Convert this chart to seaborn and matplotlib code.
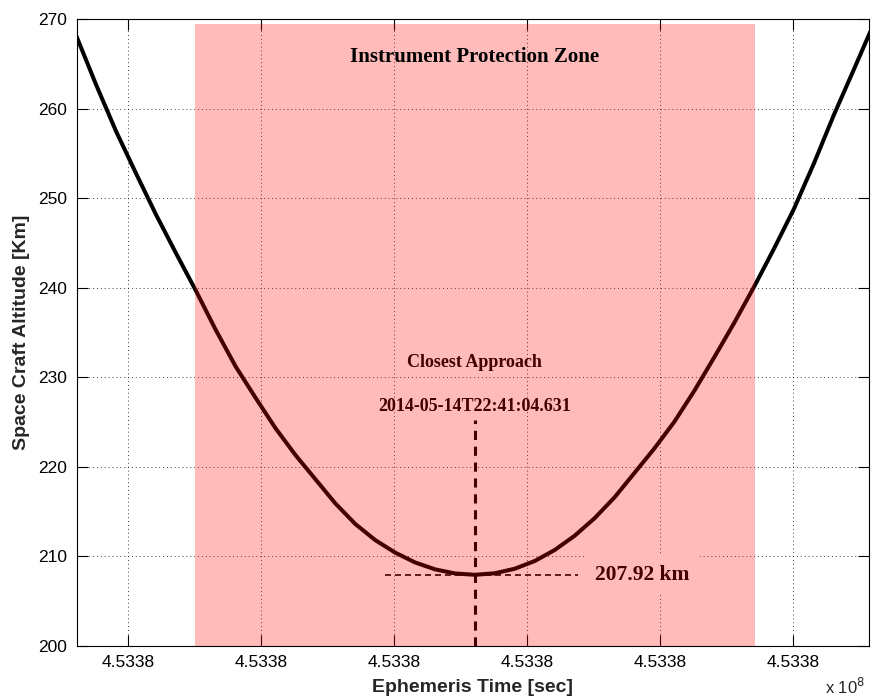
import matplotlib
matplotlib.use("Agg")
import matplotlib.pyplot as plt
import seaborn as sns
import pandas as pd
from matplotlib.ticker import FixedLocator, FuncFormatter

# ---- data (altitude along the flyby) ----
et_sec = [453379060.7, 453379075.7, 453379090.7, 453379105.7, 453379120.7,
          453379135.7, 453379150.7, 453379165.7, 453379180.7, 453379195.7,
          453379210.7, 453379225.7, 453379240.7, 453379255.7, 453379270.7,
          453379285.7, 453379300.7, 453379315.7, 453379330.7, 453379345.7,
          453379360.7,
          453379375.7, 453379390.7, 453379405.7, 453379420.7, 453379435.7,
          453379450.7, 453379465.7, 453379480.7, 453379495.7, 453379510.7,
          453379525.7, 453379540.7, 453379555.7, 453379570.7, 453379585.7,
          453379600.7, 453379615.7, 453379630.7, 453379645.7, 453379658.2]
altitude_km = [268.2, 262.7, 257.5, 252.8, 248.2,
               243.9, 239.7, 235.3, 231.2, 227.7,
               224.3, 221.3, 218.6, 215.9, 213.6,
               211.8, 210.4, 209.3, 208.53, 208.07,
               207.92,
               208.09, 208.6, 209.46, 210.69, 212.28,
               214.24, 216.57, 219.3, 222.04, 225.02,
               228.47, 232.22, 236.06, 240.11, 244.37,
               248.82, 253.89, 259.31, 264.37, 268.64]

closest_et = 453379360.7
closest_alt = 207.92
closest_label = "2014-05-14T22:41:04.631"
zone_start = 453379150.1
zone_end = 453379571.2
zone_top = 269.46
x_ticks = [453379100, 453379200, 453379300, 453379400, 453379500, 453379600]
y_ticks = [200, 210, 220, 230, 240, 250, 260, 270]
x_limits = (453379061.4, 453379657.1)
y_limits = (200, 270)
hline_span = (453379293.0, 453379438.0)
vline_top = 225.2

df = pd.DataFrame({"et": et_sec, "alt": altitude_km})

sns.set_style("white")
plt.rcParams["font.family"] = ["Liberation Sans", "DejaVu Sans"]

fig = plt.figure(figsize=(8.73, 7.0), dpi=100)
ax = fig.add_axes([0.0882, 0.0776, 0.9954 - 0.0882, 0.9726 - 0.0776])

sns.lineplot(data=df, x="et", y="alt", ax=ax, color="black", linewidth=2.9,
             sort=False, zorder=3, solid_joinstyle="round")

# closest approach markers
ax.plot([closest_et, closest_et], [y_limits[0], vline_top], color="black",
        linewidth=2.2, linestyle=(0, (3.0, 2.2)), zorder=4)
ax.plot(list(hline_span), [closest_alt, closest_alt], color="black",
        linewidth=1.2, linestyle=(0, (3.6, 2.4)), zorder=4)

serif = ["Liberation Serif", "DejaVu Serif"]
ax.text(closest_et, 231.6, "Closest Approach", ha="center", va="center",
        fontsize=13, fontweight="bold", family=serif, color="black", zorder=5)
ax.text(closest_et, 226.7, closest_label, ha="center", va="center",
        fontsize=13, fontweight="bold", family=serif, color="black", zorder=5)
ax.text(453379451.0, closest_alt, f"{closest_alt:.2f} km", ha="left", va="center",
        fontsize=15.5, fontweight="bold", family=serif, color="black", zorder=5,
        bbox=dict(boxstyle="square,pad=0.45", facecolor="white", edgecolor="none"))

# protection zone overlay (semi transparent, on top)
ax.fill_between([zone_start, zone_end], [y_limits[0]] * 2, [zone_top] * 2,
                color="red", alpha=0.27, linewidth=0, zorder=6)
ax.text((zone_start + zone_end) / 2, 265.8, "Instrument Protection Zone",
        ha="center", va="center", fontsize=15, fontweight="bold", family=serif,
        color="black", zorder=7)

ax.set_xlim(*x_limits)
ax.set_ylim(*y_limits)
ax.xaxis.set_major_locator(FixedLocator(x_ticks))
ax.yaxis.set_major_locator(FixedLocator(y_ticks))
ax.xaxis.set_major_formatter(FuncFormatter(lambda v, p: f"{v / 1e8:.4f}"))
ax.yaxis.set_major_formatter(FuncFormatter(lambda v, p: f"{v:.0f}"))

ax.grid(True, linestyle=(0, (1, 3)), color="black", linewidth=0.7, alpha=0.75)
ax.set_axisbelow(True)
for sp in ax.spines.values():
    sp.set_visible(True)
    sp.set_color("black")
    sp.set_linewidth(0.8)

ax.tick_params(direction="in", length=8, width=0.8, top=True, right=True,
               bottom=True, left=True, labelsize=12.5, pad=7, colors="black")

ax.set_xlabel("Ephemeris Time [sec]", fontsize=14, fontweight="bold", labelpad=6)
ax.set_ylabel("Space Craft Altitude [Km]", fontsize=14, fontweight="bold", labelpad=6)

fig.text(0.968, 0.004, "x 10$^{8}$", ha="center", va="bottom", fontsize=12)

fig.savefig("out.png", dpi=100)
